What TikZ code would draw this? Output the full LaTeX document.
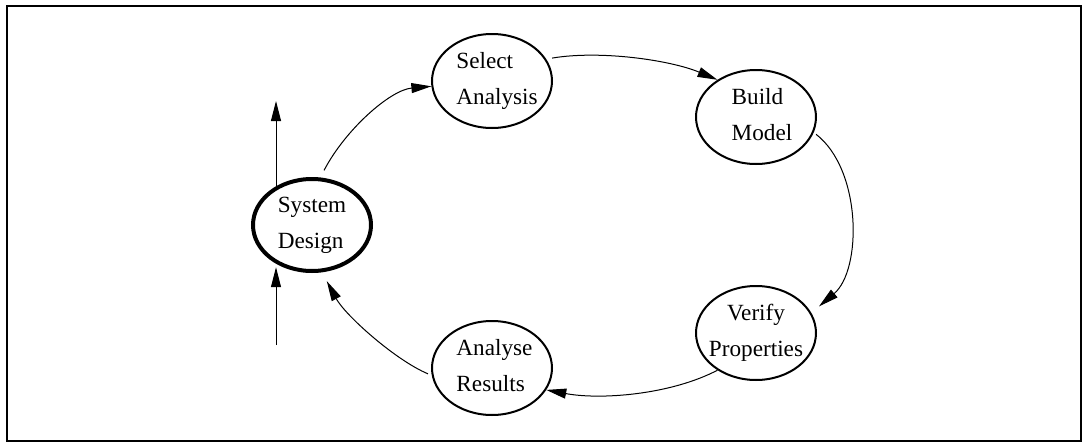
\documentclass[tikz,border=0pt]{standalone}
\usepackage{fontspec}
\setmainfont{Liberation Serif}
\usetikzlibrary{shapes.geometric,arrows.meta}
\newcommand{\twol}[4]{\makebox[0pt]{\hspace{#4}\smash{\raisebox{-2pt}{\begin{tabular}{@{}#1@{}}#2\\#3\end{tabular}}}}}
\begin{document}
\begin{tikzpicture}[x=0.5pt,y=-0.5pt,
  ell/.style={draw, ellipse, line width=1pt, minimum width=60pt, minimum height=47pt, inner sep=0pt, font=\fontsize{11.6}{18}\selectfont},
  sdell/.style={ell, line width=2pt, minimum width=59pt, minimum height=46pt},
  conn/.style={line width=0.5pt, -{Triangle[length=10pt,width=5pt]}},
  frame/.style={line width=1.1pt}]
\useasboundingbox (0,0) rectangle (1084,445);
\draw[frame] (7,6) rectangle (1081,441);
\node[sdell] (sd) at (312,225) {\twol{l}{System}{Design}{0pt}};
\node[ell] (sa) at (492,81) {\twol{l}{Select}{Analysis}{5pt}};
\node[ell] (bm) at (756,117) {\twol{l}{Build}{Model}{6pt}};
\node[ell] (vp) at (756,333) {\twol{c}{Verify}{Properties}{0pt}};
\node[ell] (ar) at (492,368) {\twol{l}{Analyse}{Results}{2.5pt}};
\coordinate (outtop) at (276,101);
\coordinate (inbot) at (276,345);
\draw[conn, shorten <=4pt] (sd.80) .. controls (345,130) and (390,90) .. (sa.185);
\draw[conn, shorten <=3pt] (sa.22) .. controls (600,50) and (670,60) .. (bm.136);
\draw[conn, shorten <=1.5pt, shorten >=5pt] (bm.345) .. controls (862,170) and (862,270) .. (vp.20);
\draw[conn] (vp.224) .. controls (670,395) and (600,400) .. (ar.338);
\draw[conn, shorten <=2pt, shorten >=5pt] (ar.187) .. controls (395,360) and (345,315) .. (sd.282);
\draw[conn] (sd.134 -| outtop) -- (outtop);
\draw[conn, shorten >=2pt] (inbot) -- (sd.226 -| inbot);
\end{tikzpicture}
\end{document}
